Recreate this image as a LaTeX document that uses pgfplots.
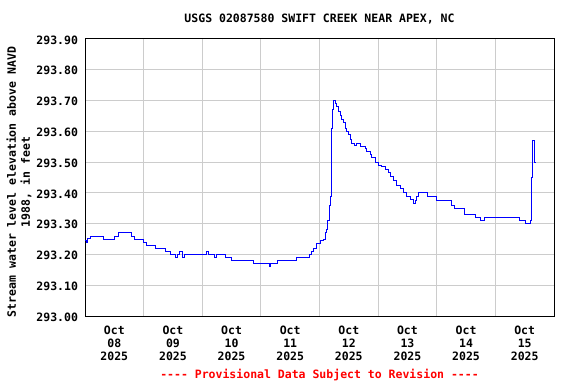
\documentclass[border=0pt]{standalone}
\usepackage{fontspec}
\setmainfont{DejaVu Sans Mono}
\usepackage{pgfplots}
\pgfplotsset{compat=1.18}
\definecolor{gridgray}{RGB}{204,204,204}
\definecolor{usgsblue}{RGB}{0,0,255}
\definecolor{usgsred}{RGB}{255,0,0}
\begin{document}
\fontsize{11.5bp}{14bp}\selectfont\bfseries
\begin{tikzpicture}
\useasboundingbox (0bp,0bp) rectangle (576bp,384bp);
\begin{axis}[at={(85bp,68bp)}, anchor=south west, scale only axis,
  width=469bp, height=277bp,
  xmin=8, xmax=16, ymin=293.0, ymax=293.9,
  xtick={8.5,9.5,10.5,11.5,12.5,13.5,14.5,15.5},
  xticklabels={{Oct\\08\\2025},{Oct\\09\\2025},{Oct\\10\\2025},{Oct\\11\\2025},{Oct\\12\\2025},{Oct\\13\\2025},{Oct\\14\\2025},{Oct\\15\\2025}},
  minor xtick={9,10,11,12,13,14,15},
  ytick={293.0,293.1,293.2,293.3,293.4,293.5,293.6,293.7,293.8,293.9},
  /pgf/number format/assume math mode=true,
  xticklabel style={align=center, font=\fontsize{11.5bp}{13.2bp}\selectfont\bfseries, yshift=-5.5bp},
  yticklabel style={font=\fontsize{11.5bp}{14bp}\selectfont\bfseries, xshift=-3bp, yshift=-1bp,
    /pgf/number format/fixed, /pgf/number format/fixed zerofill,
    /pgf/number format/precision=2, /pgf/number format/1000 sep={}},
  major tick length=0pt, minor tick length=0pt,
  ymajorgrids, xminorgrids,
  grid style={gridgray, line width=1bp},
  minor grid style={gridgray, line width=1bp},
  axis line style={line width=1bp, black},
  clip=true,
]
\addplot[const plot, usgsblue, line width=0.9bp] coordinates {
(8.00,293.247)(8.02,293.24)(8.04,293.253)(8.10,293.26)(8.32,293.25)(8.51,293.26)
(8.57,293.27)(8.80,293.26)(8.85,293.25)(8.99,293.24)(9.05,293.23)(9.21,293.22)
(9.38,293.21)(9.45,293.20)(9.54,293.19)(9.57,293.20)(9.61,293.21)(9.67,293.19)
(9.70,293.20)(10.07,293.21)(10.10,293.20)(10.20,293.19)(10.24,293.20)(10.389,293.19)
(10.503,293.18)(10.87,293.17)(11.15,293.16)(11.17,293.17)(11.28,293.18)(11.613,293.19)
(11.83,293.20)(11.87,293.21)(11.90,293.22)(11.95,293.235)(12.01,293.245)(12.06,293.25)
(12.10,293.27)(12.124,293.28)(12.135,293.31)(12.164,293.36)(12.181,293.39)(12.198,293.51)
(12.209,293.61)(12.221,293.67)(12.238,293.70)(12.266,293.69)(12.295,293.68)(12.323,293.665)
(12.352,293.65)(12.38,293.64)(12.409,293.63)(12.437,293.61)(12.466,293.60)(12.494,293.59)
(12.522,293.575)(12.551,293.56)(12.60,293.555)(12.636,293.56)(12.693,293.55)(12.778,293.545)
(12.807,293.535)(12.864,293.525)(12.892,293.515)(12.949,293.50)(13.005,293.49)(13.063,293.485)
(13.119,293.475)(13.176,293.465)(13.205,293.455)(13.261,293.44)(13.319,293.425)(13.375,293.415)
(13.432,293.40)(13.49,293.39)(13.546,293.38)(13.603,293.365)(13.631,293.375)(13.66,293.39)
(13.688,293.40)(13.848,293.39)(14.002,293.375)(14.258,293.36)(14.30,293.35)(14.473,293.33)
(14.655,293.32)(14.741,293.31)(14.809,293.32)(15.411,293.31)(15.52,293.30)(15.594,293.31)
(15.623,293.45)(15.634,293.57)(15.660,293.55)(15.675,293.50)(15.691,293.50)
};
\end{axis}
\node at (319.5bp,365bp) {USGS 02087580 SWIFT CREEK NEAR APEX, NC};
\node[rotate=90, align=center] at (19bp,202bp) {Stream water level elevation above NAVD\\1988, in feet};
\node[text=usgsred] at (319.5bp,9bp) {{-}{-}{-}{-} Provisional Data Subject to Revision {-}{-}{-}{-}};
\end{tikzpicture}
\end{document}
